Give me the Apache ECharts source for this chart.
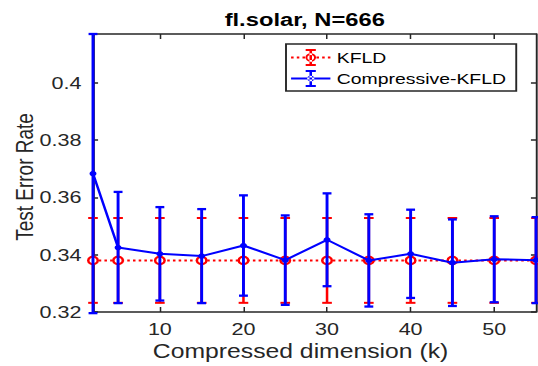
<!DOCTYPE html>
<html>
<head>
<meta charset="utf-8">
<script src="https://cdn.jsdelivr.net/npm/echarts@6/dist/echarts.min.js"></script>
<style>
html,body{margin:0;padding:0;background:#fff;overflow:hidden;}
#chart{width:424px;height:366px;transform:scaleX(1.26887);transform-origin:0 0;}
</style>
</head>
<body>
<div id="chart"></div>
<script>
// ---- data ----
const kValues = [2, 5, 10, 15, 20, 25, 30, 35, 40, 45, 50, 55];
const kfldMean = [0.3380, 0.3380, 0.3380, 0.3380, 0.3380, 0.3380, 0.3380, 0.3380, 0.3380, 0.3380, 0.3380, 0.3380];
const kfldErr  = [0.0148, 0.0148, 0.0148, 0.0148, 0.0148, 0.0148, 0.0148, 0.0148, 0.0148, 0.0148, 0.0148, 0.0148];
const ckfldMean = [0.3683, 0.3425, 0.3403, 0.3395, 0.3432, 0.3381, 0.3452, 0.3380, 0.3403, 0.3372, 0.3384, 0.3381];
const ckfldErr  = [0.0487, 0.0194, 0.0163, 0.0164, 0.0175, 0.0156, 0.0162, 0.0161, 0.0154, 0.0151, 0.0150, 0.0150];
const xTicks = [10, 20, 30, 40, 50];
const yTicks = [0.32, 0.34, 0.36, 0.38, 0.40];
const titleText = 'fl.solar, N=666';
const xName = 'Compressed dimension (k)';
const yName = 'Test Error Rate';
const names = ['KFLD', 'Compressive-KFLD'];

// ---- layout ----
const S = 538 / 424; // horizontal stretch of the reference
const FONT = '"Liberation Sans", Arial, Helvetica, sans-serif';
const AX = '#262626';
const RED = '#FF0000', BLUE = '#0000FF';

const mctx = document.createElement('canvas').getContext('2d');
mctx.font = 'bold 18.7px ' + FONT;
const titleW = mctx.measureText(titleText).width;

// legend icons (31 x 17 box): line + error bar + marker
const errGlyph = 'M14.5 0H16.5V17H14.5Z M11.5 0H19.5V2H11.5Z M11.5 15H19.5V17H11.5Z ';
const dotted = 'M0 7.5H2V9.5H0Z M4.5 7.5H6.5V9.5H4.5Z M9 7.5H11V9.5H9Z M20 7.5H22V9.5H20Z M24.5 7.5H26.5V9.5H24.5Z M29 7.5H31V9.5H29Z ';
const ring = 'M11.3 8.5A4.2 4.2 0 1 0 19.7 8.5A4.2 4.2 0 1 0 11.3 8.5Z M12.9 8.5A2.6 2.6 0 1 1 18.1 8.5A2.6 2.6 0 1 1 12.9 8.5Z';
const solid = 'M0 7.5H31V9.5H0Z ';
const dot = 'M12.7 8.5A2.8 2.8 0 1 0 18.3 8.5A2.8 2.8 0 1 0 12.7 8.5Z';
const iconKfld = 'path://' + dotted + errGlyph + ring;
const iconCkfld = 'path://' + solid + errGlyph + dot;

function errRender(color, capHalf, lw) {
  return function (params, api) {
    const x = api.value(0), lo = api.value(1), hi = api.value(2);
    const a = api.coord([x, hi]), b = api.coord([x, lo]);
    const st = { stroke: color, lineWidth: lw, fill: null };
    return {
      type: 'group',
      children: [
        { type: 'line', shape: { x1: a[0], y1: a[1], x2: b[0], y2: b[1] }, style: st },
        { type: 'line', shape: { x1: a[0] - capHalf, y1: a[1], x2: a[0] + capHalf, y2: a[1] }, style: st },
        { type: 'line', shape: { x1: b[0] - capHalf, y1: b[1], x2: b[0] + capHalf, y2: b[1] }, style: st }
      ]
    };
  };
}

const kfldBars = kValues.map((k, i) => [k, kfldMean[i] - kfldErr[i], kfldMean[i] + kfldErr[i]]);
const ckfldBars = kValues.map((k, i) => [k, ckfldMean[i] - ckfldErr[i], ckfldMean[i] + ckfldErr[i]]);
const kfldLine = kValues.map((k, i) => [k, kfldMean[i]]);
const ckfldLine = kValues.map((k, i) => [k, ckfldMean[i]]);

const chart = echarts.init(document.getElementById('chart'), null, { renderer: 'svg' });

const fmtY = v => String(parseFloat(Number(v).toFixed(2)));

chart.setOption({
  animation: false,
  backgroundColor: '#fff',
  textStyle: { fontFamily: FONT },
  title: {
    text: titleText,
    left: 304.7 / S - titleW / 2,
    top: 10,
    padding: 0,
    textStyle: { fontFamily: FONT, fontWeight: 'bold', fontSize: 18.7, color: '#000' }
  },
  legend: {
    data: [
      { name: names[0], icon: iconKfld, itemStyle: { color: RED, borderWidth: 0 } },
      { name: names[1], icon: iconCkfld, itemStyle: { color: BLUE, borderWidth: 0 } }
    ],
    orient: 'vertical',
    left: 286 / S,
    top: 44,
    padding: [5, 8, 4, 4],
    itemWidth: 31,
    itemHeight: 17,
    itemGap: 4,
    symbolKeepAspect: false,
    borderColor: AX,
    borderWidth: 1.5,
    backgroundColor: '#fff',
    selectedMode: false,
    textStyle: { fontFamily: FONT, fontSize: 15.3, color: '#000', lineHeight: 16 }
  },
  grid: { left: 93 / S, right: 2 / S, top: 34, bottom: 54, outerBoundsMode: 'none', containLabel: false },
  xAxis: [
    {
      type: 'value', min: 2, max: 55, position: 'bottom',
      name: xName, nameLocation: 'middle', nameGap: 29, nameMoveOverlap: false,
      nameTextStyle: { fontFamily: FONT, fontSize: 19.5, color: AX, padding: [0, 22, 0, 0] },
      axisLine: { show: true, onZero: false, lineStyle: { color: AX, width: 1.5 } },
      axisTick: { show: true, inside: true, length: 5, customValues: xTicks, lineStyle: { color: AX, width: 1.2 } },
      axisLabel: { customValues: xTicks, fontFamily: FONT, fontSize: 17, color: AX, margin: 8 },
      splitLine: { show: false }
    },
    {
      type: 'value', min: 2, max: 55, position: 'top',
      axisLine: { show: true, onZero: false, lineStyle: { color: AX, width: 1.5 } },
      axisTick: { show: true, inside: true, length: 5, customValues: xTicks, lineStyle: { color: AX, width: 1.2 } },
      axisLabel: { show: false },
      splitLine: { show: false }
    }
  ],
  yAxis: [
    {
      type: 'value', min: 0.32, max: 0.417, position: 'left',
      name: yName, nameLocation: 'middle', nameGap: 44, nameRotate: 90, nameMoveOverlap: false,
      nameTextStyle: { fontFamily: FONT, fontSize: 19, color: AX, padding: [0, 8, 0, 0] },
      axisLine: { show: true, onZero: false, lineStyle: { color: AX, width: 1.5 } },
      axisTick: { show: true, inside: true, length: 4, customValues: yTicks, lineStyle: { color: AX, width: 1.5 } },
      axisLabel: { customValues: yTicks, formatter: fmtY, fontFamily: FONT, fontSize: 17, color: AX, margin: 9 },
      splitLine: { show: false }
    },
    {
      type: 'value', min: 0.32, max: 0.417, position: 'right',
      axisLine: { show: true, onZero: false, lineStyle: { color: AX, width: 1.5 } },
      axisTick: { show: true, inside: true, length: 4, customValues: yTicks, lineStyle: { color: AX, width: 1.5 } },
      axisLabel: { show: false },
      splitLine: { show: false }
    }
  ],
  series: [
    {
      type: 'custom', name: 'KFLD-err', data: kfldBars, encode: { x: 0, y: [1, 2] },
      renderItem: errRender(RED, 3.8, 2), silent: true, clip: false, z: 2
    },
    {
      type: 'line', name: names[0], data: kfldLine,
      symbol: 'emptyCircle', symbolSize: 7.5,
      lineStyle: { color: RED, width: 2, type: [2, 2.5] },
      itemStyle: { color: RED, borderColor: RED, borderWidth: 2 },
      emphasis: { disabled: true }, silent: true, z: 3
    },
    {
      type: 'custom', name: 'CKFLD-err', data: ckfldBars, encode: { x: 0, y: [1, 2] },
      renderItem: errRender(BLUE, 3.5, 2.3), silent: true, clip: false, z: 4
    },
    {
      type: 'line', name: names[1], data: ckfldLine,
      symbol: 'circle', symbolSize: 5.5,
      lineStyle: { color: BLUE, width: 2 },
      itemStyle: { color: BLUE },
      emphasis: { disabled: true }, silent: true, z: 5
    }
  ]
});
</script>
</body>
</html>
